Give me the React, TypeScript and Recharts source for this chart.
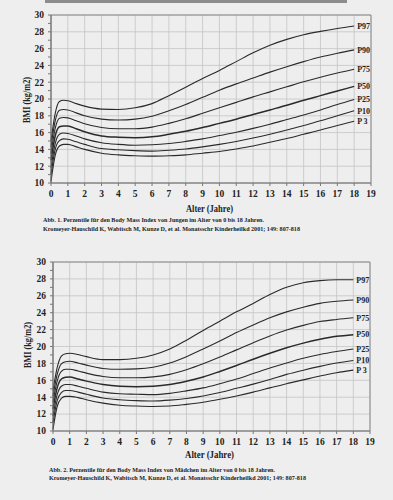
import { CartesianGrid, Line, LineChart, ReferenceArea, XAxis, YAxis } from 'recharts';

// age in years (x axis)
const AGES = [0, 0.25, 0.5, 0.75, 1, 1.5, 2, 3, 4, 5, 6, 7, 8, 9, 10, 11, 12, 13, 14, 15, 16, 17, 18];

// Jungen (Abb. 1)
const BOYS_P97 = [15.0, 18.3, 19.7, 19.85, 19.8, 19.45, 19.15, 18.8, 18.75, 18.95, 19.45, 20.4, 21.4, 22.45, 23.4, 24.45, 25.5, 26.4, 27.1, 27.65, 28.05, 28.4, 28.7];
const BOYS_P90 = [14.3, 17.4, 18.65, 18.75, 18.7, 18.35, 18.0, 17.6, 17.5, 17.6, 17.95, 18.6, 19.35, 20.2, 21.05, 21.8, 22.5, 23.2, 23.85, 24.45, 25.0, 25.45, 25.85];
const BOYS_P75 = [13.5, 16.5, 17.7, 17.8, 17.75, 17.4, 17.05, 16.6, 16.45, 16.45, 16.65, 17.1, 17.65, 18.3, 18.95, 19.6, 20.25, 20.85, 21.45, 22.05, 22.6, 23.1, 23.55];
const BOYS_P50 = [12.7, 15.6, 16.7, 16.8, 16.8, 16.45, 16.1, 15.6, 15.45, 15.4, 15.5, 15.8, 16.15, 16.6, 17.1, 17.6, 18.15, 18.7, 19.25, 19.85, 20.4, 20.95, 21.5];
const BOYS_P25 = [11.8, 14.7, 15.8, 15.95, 15.9, 15.6, 15.25, 14.8, 14.6, 14.5, 14.55, 14.7, 14.95, 15.25, 15.65, 16.05, 16.5, 17.0, 17.55, 18.1, 18.7, 19.35, 19.95];
const BOYS_P10 = [11.0, 14.0, 15.05, 15.25, 15.2, 14.9, 14.6, 14.1, 13.95, 13.85, 13.8, 13.9, 14.05, 14.3, 14.6, 14.95, 15.35, 15.8, 16.3, 16.85, 17.4, 18.0, 18.6];
const BOYS_P3 = [10.2, 13.3, 14.4, 14.6, 14.6, 14.3, 14.0, 13.55, 13.35, 13.25, 13.2, 13.25, 13.35, 13.55, 13.75, 14.05, 14.4, 14.85, 15.3, 15.8, 16.3, 16.85, 17.35];

// Mädchen (Abb. 2)
const GIRLS_P97 = [14.8, 17.5, 18.85, 19.15, 19.2, 19.05, 18.8, 18.45, 18.45, 18.6, 19.0, 19.7, 20.75, 21.9, 23.0, 24.1, 25.1, 26.15, 27.0, 27.55, 27.8, 27.9, 27.9];
const GIRLS_P90 = [14.1, 16.7, 17.95, 18.2, 18.25, 18.05, 17.8, 17.4, 17.3, 17.35, 17.55, 18.05, 18.8, 19.7, 20.65, 21.65, 22.55, 23.4, 24.1, 24.65, 25.1, 25.35, 25.5];
const GIRLS_P75 = [13.4, 15.9, 17.05, 17.3, 17.3, 17.1, 16.85, 16.45, 16.3, 16.3, 16.4, 16.7, 17.25, 17.95, 18.75, 19.6, 20.45, 21.25, 21.95, 22.5, 22.95, 23.2, 23.4];
const GIRLS_P50 = [12.6, 15.1, 16.15, 16.35, 16.4, 16.15, 15.9, 15.5, 15.3, 15.25, 15.3, 15.5, 15.9, 16.4, 17.05, 17.75, 18.5, 19.2, 19.85, 20.4, 20.85, 21.2, 21.4];
const GIRLS_P25 = [11.75, 14.3, 15.3, 15.5, 15.5, 15.3, 15.05, 14.6, 14.4, 14.35, 14.3, 14.45, 14.75, 15.1, 15.6, 16.15, 16.8, 17.45, 18.05, 18.6, 19.05, 19.4, 19.7];
const GIRLS_P10 = [11.0, 13.6, 14.55, 14.8, 14.8, 14.6, 14.35, 13.9, 13.7, 13.6, 13.55, 13.65, 13.85, 14.15, 14.55, 15.05, 15.55, 16.1, 16.7, 17.2, 17.65, 18.05, 18.35];
const GIRLS_P3 = [10.2, 12.9, 13.85, 14.1, 14.1, 13.95, 13.7, 13.3, 13.05, 12.95, 12.9, 12.95, 13.15, 13.4, 13.75, 14.15, 14.6, 15.1, 15.6, 16.05, 16.5, 16.9, 17.2];

const AGE_TICKS = [0, 1, 2, 3, 4, 5, 6, 7, 8, 9, 10, 11, 12, 13, 14, 15, 16, 17, 18, 19];
const BMI_TICKS = [10, 11, 12, 13, 14, 15, 16, 17, 18, 19, 20, 21, 22, 23, 24, 25, 26, 27, 28, 29, 30];
const BMI_GRID = [10, 12, 14, 16, 18, 20, 22, 24, 26, 28, 30];

const KEYS = ['p97', 'p90', 'p75', 'p50', 'p25', 'p10', 'p3'];
const NAMES = ['P97', 'P90', 'P75', 'P50', 'P25', 'P10', 'P 3'];

const serif = '"Liberation Serif", "Times New Roman", serif';

function toRows(series: number[][]) {
  return AGES.map((age, i) => {
    const row: Record<string, number> = { age };
    KEYS.forEach((k, j) => {
      row[k] = series[j][i];
    });
    return row;
  });
}

const boysRows = toRows([BOYS_P97, BOYS_P90, BOYS_P75, BOYS_P50, BOYS_P25, BOYS_P10, BOYS_P3]);
const girlsRows = toRows([GIRLS_P97, GIRLS_P90, GIRLS_P75, GIRLS_P50, GIRLS_P25, GIRLS_P10, GIRLS_P3]);

function PercentileChart({ rows, top, left, right, height }: { rows: Record<string, number>[]; top: number; left: number; right: number; height: number }) {
  const last = AGES.length - 1;
  const tickStyle = { fontFamily: serif, fontSize: 9.5, fontWeight: 700, fill: '#222' };
  return (
    <div style={{ position: 'absolute', top, left: 0 }}>
      <LineChart width={393} height={height} data={rows} margin={{ top: 15, right, left: left - 30, bottom: 0 }}>
        <CartesianGrid stroke="#c4c4c4" strokeWidth={0.8} horizontalValues={BMI_GRID} verticalValues={AGE_TICKS} />
        <XAxis
          type="number"
          dataKey="age"
          domain={[0, 19]}
          ticks={AGE_TICKS}
          interval={0}
          height={17}
          tickSize={3}
          tickMargin={4}
          axisLine={{ stroke: '#888' }}
          tickLine={{ stroke: '#777' }}
          tick={tickStyle}
        />
        <YAxis
          type="number"
          domain={[10, 30]}
          ticks={BMI_TICKS}
          interval={0}
          width={30}
          tickSize={3}
          tickMargin={4}
          tickFormatter={(v: number) => (v % 2 === 0 ? String(v) : '')}
          axisLine={{ stroke: '#777' }}
          tickLine={{ stroke: '#777' }}
          tick={tickStyle}
        />
        <ReferenceArea x1={0} x2={19} y1={10} y2={30} fill="none" stroke="#8a8a8a" />
        {KEYS.map((k, j) => (
          <Line
            key={k}
            type="monotone"
            dataKey={k}
            stroke="#2a2a2a"
            strokeWidth={k === 'p50' ? 1.5 : 1.1}
            dot={false}
            isAnimationActive={false}
            label={(p: any) =>
              p.index === last ? (
                <text
                  key={k + '-lbl'}
                  x={p.x + 3}
                  y={p.y}
                  dy="0.35em"
                  fontFamily={serif}
                  fontSize={8}
                  fontWeight={700}
                  stroke="none"
                  style={{ fill: '#222' }}
                >
                  {NAMES[j]}
                </text>
              ) : null
            }
          />
        ))}
      </LineChart>
    </div>
  );
}

export default function App() {
  const text = { fontFamily: serif, fontWeight: 700, fill: '#222' };
  return (
    <div style={{ position: 'fixed', top: 0, left: 0, width: 393, height: 500, background: '#eeeeee', overflow: 'hidden' }}>
      <PercentileChart rows={boysRows} top={0} left={51} right={22} height={200} />
      <PercentileChart rows={girlsRows} top={247} left={53} right={23} height={201} />
      <svg width={393} height={500} style={{ position: 'absolute', top: 0, left: 0, pointerEvents: 'none' }}>
        <rect x={45} y={0} width={302} height={3} fill="#8c8c8c" />
        <text {...text} fontSize={10} textAnchor="middle" transform="translate(30,100) rotate(-90)" textLength={46} lengthAdjust="spacingAndGlyphs">
          BMI (kg/m2)
        </text>
        <text {...text} fontSize={10.5} x={186} y={212} textLength={47} lengthAdjust="spacingAndGlyphs">
          Alter (Jahre)
        </text>
        <text {...text} fontSize={6.3} x={43} y={222} textLength={221} lengthAdjust="spacingAndGlyphs">
          Abb. 1. Perzentile für den Body Mass Index von Jungen im Alter von 0 bis 18 Jahren.
        </text>
        <text {...text} fontSize={6.3} x={43} y={231} textLength={257} lengthAdjust="spacingAndGlyphs">
          Kromeyer-Hauschild K, Wabitsch M, Kunze D, et al. Monatsschr Kinderheilkd 2001; 149: 807-818
        </text>

        <text {...text} fontSize={10} textAnchor="middle" transform="translate(31,345) rotate(-90)" textLength={46} lengthAdjust="spacingAndGlyphs">
          BMI (kg/m2)
        </text>
        <text {...text} fontSize={10.5} x={185} y={458} textLength={49} lengthAdjust="spacingAndGlyphs">
          Alter (Jahre)
        </text>
        <text {...text} fontSize={6.3} x={49} y={472} textLength={226} lengthAdjust="spacingAndGlyphs">
          Abb. 2. Perzentile für den Body Mass Index von Mädchen im Alter von 0 bis 18 Jahren.
        </text>
        <text {...text} fontSize={6.3} x={49} y={480} textLength={257} lengthAdjust="spacingAndGlyphs">
          Kromeyer-Hauschild K, Wabitsch M, Kunze D, et al. Monatsschr Kinderheilkd 2001; 149: 807-818
        </text>
      </svg>
    </div>
  );
}
